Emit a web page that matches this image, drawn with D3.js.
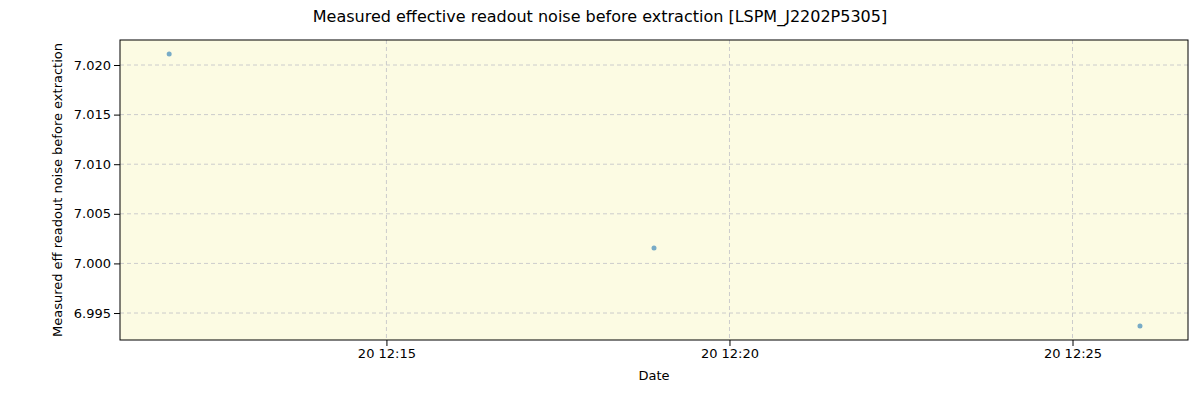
<!DOCTYPE html>
<html><head><meta charset="utf-8">
<script src="https://cdn.jsdelivr.net/npm/d3@7"></script>
<style>body{margin:0;background:#fff;font-family:"DejaVu Sans",sans-serif;}</style>
</head><body><svg id="c" width="1200" height="400"></svg>
<script>
const dates = ["2023-01-20T12:11:50","2023-01-20T12:18:54","2023-01-20T12:25:59"];
const values = [7.0211, 7.00155, 6.99369];
const yTicks = [6.995, 7.000, 7.005, 7.010, 7.015, 7.020];
const xTicks = ["2023-01-20T12:15:00","2023-01-20T12:20:00","2023-01-20T12:25:00"];
const xDomain = ["2023-01-20T12:11:07","2023-01-20T12:26:41"];
const yDomain = [6.99228, 7.02252];

const p = s => new Date(s);
const svg = d3.select("#c");
const L=120,R=1188,T=40,B=340;
const x = d3.scaleTime().domain(xDomain.map(p)).range([L,R]);
const y = d3.scaleLinear().domain(yDomain).range([B,T]);
svg.append("rect").attr("x",L).attr("y",T).attr("width",R-L).attr("height",B-T).attr("fill","#fcfbe3");
const g=svg.append("g");
xTicks.forEach(t=>g.append("line").attr("x1",x(p(t))).attr("x2",x(p(t))).attr("y1",T).attr("y2",B).attr("stroke","#ccc").attr("stroke-dasharray","4,3"));
yTicks.forEach(t=>g.append("line").attr("x1",L).attr("x2",R).attr("y1",y(t)).attr("y2",y(t)).attr("stroke","#ccc").attr("stroke-dasharray","4,3"));
svg.append("g").attr("transform",`translate(0,${B})`).call(d3.axisBottom(x).tickValues(xTicks.map(p)).tickFormat(d3.timeFormat("%d %H:%M")).tickSizeOuter(0))
 .call(a=>{a.select(".domain").remove();a.selectAll("text").attr("font-size",13).attr("font-family","DejaVu Sans").attr("fill","#000");});
svg.append("g").attr("transform",`translate(${L},0)`).call(d3.axisLeft(y).tickValues(yTicks).tickFormat(d3.format(".3f")).tickSizeOuter(0))
 .call(a=>{a.select(".domain").remove();a.selectAll("text").attr("font-size",13).attr("font-family","DejaVu Sans").attr("fill","#000");});
svg.append("rect").attr("x",L).attr("y",T).attr("width",R-L).attr("height",B-T).attr("fill","none").attr("stroke","#000");
svg.selectAll("circle.pt").data(dates).enter().append("circle").attr("class","pt")
 .attr("cx",(d)=>x(p(d))).attr("cy",(d,i)=>y(values[i])).attr("r",2.5).attr("fill","#1f77b4").attr("fill-opacity",0.6);
svg.append("text").attr("x",600).attr("y",22).attr("text-anchor","middle").attr("font-size",16).text("Measured effective readout noise before extraction [LSPM_J2202P5305]");
svg.append("text").attr("x",654).attr("y",380).attr("text-anchor","middle").attr("font-size",13).text("Date");
svg.append("text").attr("transform","translate(62,190) rotate(-90)").attr("text-anchor","middle").attr("font-size",13).text("Measured eff readout noise before extraction");
</script></body></html>
